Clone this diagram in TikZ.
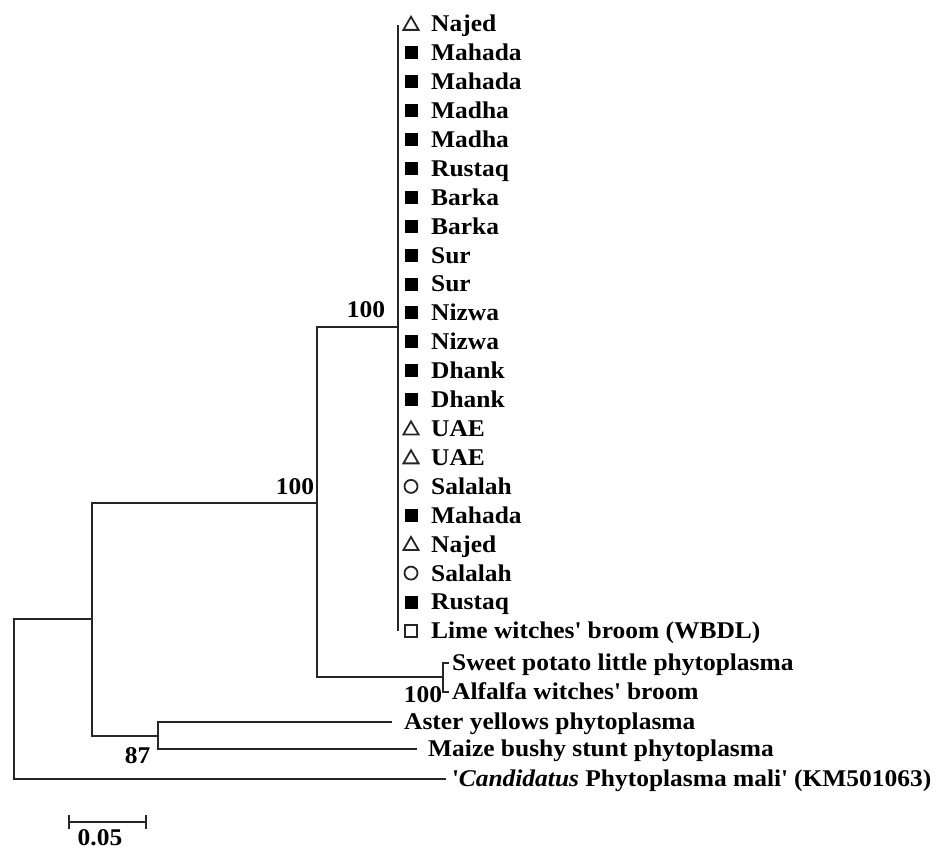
\documentclass[tikz,border=0pt]{standalone}
\usepackage{fontspec}
\setmainfont{Liberation Serif}[FakeStretch=1.06]
\usetikzlibrary{shapes.geometric}

\begin{document}
\begin{tikzpicture}[x=1pt, y=-1pt,
    font=\fontsize{24}{28}\selectfont\bfseries,
    branch/.style={draw=black!85, line width=2pt},
    taxon/.style={anchor=west, inner sep=0pt, text height=15.8pt, text depth=0pt},
    boot/.style={inner sep=0pt, text height=15.8pt, text depth=0pt},
    fsq/.style={rectangle, fill=black, minimum size=13pt, inner sep=0pt},
    osq/.style={rectangle, draw=black!85, line width=1.8pt, minimum size=11.5pt, inner sep=0pt},
    ocirc/.style={circle, draw=black!85, line width=1.8pt, minimum size=13pt, inner sep=0pt},
    otri/.style={regular polygon, regular polygon sides=3, draw=black!85,
      line width=1.8pt, minimum size=17.5pt, inner sep=0pt, yshift=-1.5pt}]
  \useasboundingbox (0,0) rectangle (943,850);

  % isolates of the WBDL cluster
  \foreach \sym/\name [count=\i from 0] in {otri/Najed, fsq/Mahada, fsq/Mahada,
      fsq/Madha, fsq/Madha, fsq/Rustaq, fsq/Barka, fsq/Barka, fsq/Sur, fsq/Sur,
      fsq/Nizwa, fsq/Nizwa, fsq/Dhank, fsq/Dhank, otri/UAE, otri/UAE,
      ocirc/Salalah, fsq/Mahada, otri/Najed, ocirc/Salalah, fsq/Rustaq,
      osq/{Lime witches\textquotesingle{} broom (WBDL)}}{
    \pgfmathsetmacro\yy{24+28.9*\i}
    \node[\sym] (s\i) at (411,\yy) {};
    \node[taxon] (t\i) at (431,\yy) {\name};
  }

  \node[taxon] (sp) at (452,663) {Sweet potato little phytoplasma};
  \node[taxon] (af) at (452,692) {Alfalfa witches\textquotesingle{} broom};
  \node[taxon] (ay) at (404,722) {Aster yellows phytoplasma};
  \node[taxon] (mb) at (428,749) {Maize bushy stunt phytoplasma};
  \node[taxon] (cm) at (452,779)
    {\textquotesingle\textit{Candidatus} Phytoplasma mali\textquotesingle{} (KM501063)};

  \coordinate (c1) at (398,327);
  \coordinate (n2) at (317,503);
  \coordinate (n3) at (443,677);
  \coordinate (n4) at (92,619);
  \coordinate (n5) at (158,736);
  \coordinate (root) at (14,699);

  \draw[branch] (c1 |- s0) -- (c1 |- s21);
  \draw[branch] (n2) |- (c1);
  \draw[branch] (n2) |- (n3);
  \draw[branch] (n3) |- ([xshift=-3pt]sp.west);
  \draw[branch] (n3) |- ([xshift=-3pt]af.west);
  \draw[branch] (n4) |- (n2);
  \draw[branch] (n4) |- (n5);
  \draw[branch] (n5) |- ([xshift=-12pt]ay.west);
  \draw[branch] (n5) |- ([xshift=-11pt]mb.west);
  \draw[branch] (root) |- (n4);
  \draw[branch] (root) |- ([xshift=-6pt]cm.west);

  % bootstrap values
  \node[boot] (b1) at (366,310) {100};
  \node[boot] (b2) at (295,487) {100};
  \node[boot] (b3) at (423,695) {100};
  \node[boot] (b4) at (137.5,755.5) {87};

  % scale bar
  \coordinate (sbl) at (69,822);
  \coordinate (sbr) at (146,822);
  \draw[branch] (sbl) -- (sbr);
  \draw[branch] ([yshift=7pt]sbl) -- ([yshift=-7pt]sbl);
  \draw[branch] ([yshift=7pt]sbr) -- ([yshift=-7pt]sbr);
  \node[boot] (sbt) at (100,838) {0.05};
\end{tikzpicture}
\end{document}
